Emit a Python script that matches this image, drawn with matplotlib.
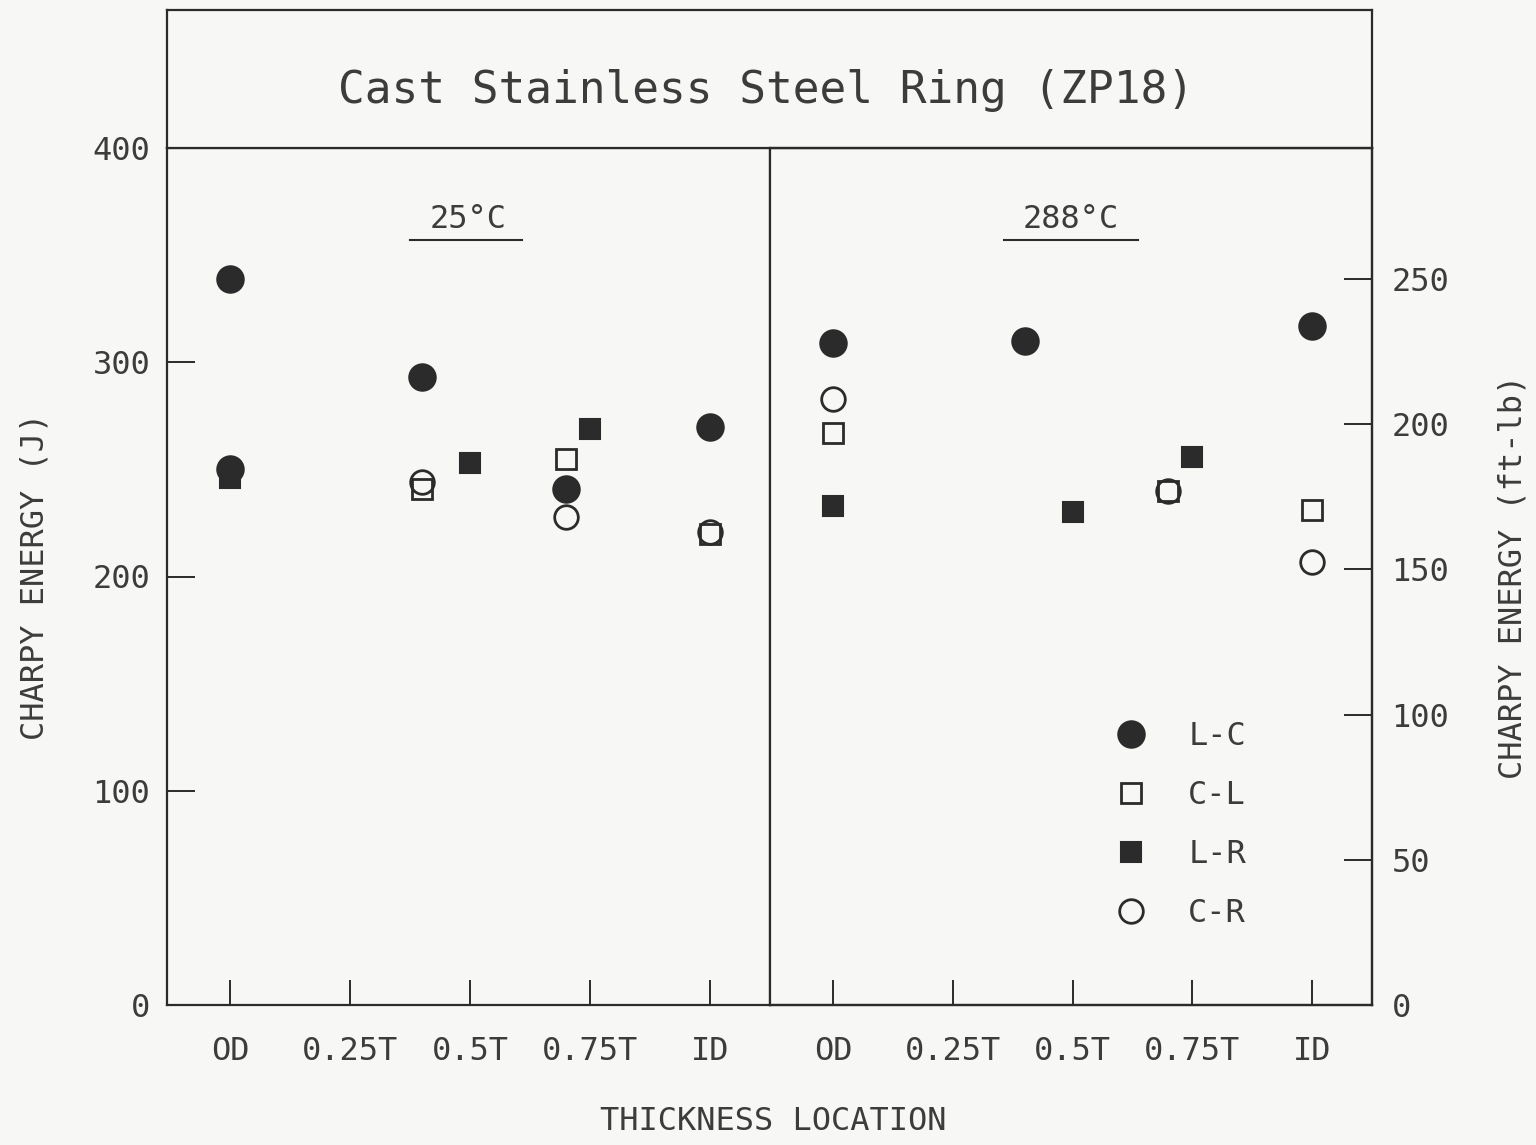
import matplotlib
matplotlib.use("Agg")
import matplotlib.pyplot as plt
from matplotlib.lines import Line2D

# ---------------- data ----------------
tick_pos = [0.0, 0.25, 0.5, 0.75, 1.0]
tick_labels = ["OD", "0.25T", "0.5T", "0.75T", "ID"]

# 25 C panel (position as fraction of thickness, energy in J)
lc25_x = [0.0, 0.0, 0.4, 0.7, 1.0]
lc25_y = [339, 250, 293, 241, 270]
cl25_x = [0.4, 0.7, 1.0]
cl25_y = [241, 255, 220]
lr25_x = [0.0, 0.5, 0.75]
lr25_y = [246, 253, 269]
cr25_x = [0.4, 0.7, 1.0]
cr25_y = [244, 228, 221]

# 288 C panel
lc288_x = [0.0, 0.4, 1.0]
lc288_y = [309, 310, 317]
cl288_x = [0.0, 0.7, 1.0]
cl288_y = [267, 240, 231]
lr288_x = [0.0, 0.5, 0.75]
lr288_y = [233, 230, 256]
cr288_x = [0.0, 0.7, 1.0]
cr288_y = [283, 240, 207]

left_yticks = [0, 100, 200, 300, 400]
right_yticks = [0, 50, 100, 150, 200, 250]
J_PER_FTLB = 1.35582

series_names = ["L-C", "C-L", "L-R", "C-R"]

# ---------------- style ----------------
FONT = "DejaVu Sans Mono"
INK = "#2b2b2b"
TXT = "#3c3c3c"
BG = "#f7f7f5"
plt.rcParams["font.family"] = FONT

W, H = 1536, 1145
fig = plt.figure(figsize=(W / 100, H / 100), dpi=100, facecolor=BG)

def fx(px):
    return px / W

def fy(py):
    return 1 - py / H

x_left, x_mid, x_right = 167, 770, 1372
y_top, y_bot, y_title_top = 148, 1005, 10

ax1 = fig.add_axes([fx(x_left), fy(y_bot), fx(x_mid - x_left), (y_bot - y_top) / H])
ax2 = fig.add_axes([fx(x_mid), fy(y_bot), fx(x_right - x_mid), (y_bot - y_top) / H])
axt = fig.add_axes([fx(x_left), fy(y_top), fx(x_right - x_left), (y_top - y_title_top) / H])

styles = {
    "L-C": dict(marker="o", ms=19, mfc=INK, mec=INK, mew=1.5),
    "C-L": dict(marker="s", ms=15, mfc="none", mec=INK, mew=2.0),
    "L-R": dict(marker="s", ms=15, mfc=INK, mec=INK, mew=1.5),
    "C-R": dict(marker="o", ms=17, mfc="none", mec=INK, mew=2.0),
}

xlim = (-0.132, 1.125)
for ax in (ax1, ax2, axt):
    ax.set_facecolor(BG)
    for s in ax.spines.values():
        s.set_color(INK)
        s.set_linewidth(1.6)

panel_data = [
    (ax1, [(lc25_x, lc25_y), (cl25_x, cl25_y), (lr25_x, lr25_y), (cr25_x, cr25_y)]),
    (ax2, [(lc288_x, lc288_y), (cl288_x, cl288_y), (lr288_x, lr288_y), (cr288_x, cr288_y)]),
]
for ax, data in panel_data:
    for name, (xs, ys) in zip(series_names, data):
        ax.plot(xs, ys, linestyle="none", **styles[name], zorder=3)
    ax.set_xlim(*xlim)
    ax.set_ylim(0, 400)
    ax.set_xticks(tick_pos)
    ax.set_xticklabels(tick_labels)
    ax.tick_params(axis="x", direction="in", length=18, width=1.4, color=INK,
                   labelsize=23, labelcolor=TXT, pad=22)

ax1.set_yticks(left_yticks)
ax1.tick_params(axis="y", direction="in", length=20, width=1.4, color=INK,
                labelsize=23, labelcolor=TXT, pad=12)
ax1.set_ylabel("CHARPY ENERGY (J)", fontsize=23, color=TXT, labelpad=30)

ax2.set_yticks([])
ax2.spines["left"].set_visible(False)
axr = ax2.twinx()
axr.set_ylim(0, 400 / J_PER_FTLB)
axr.set_yticks(right_yticks)
axr.tick_params(axis="y", direction="in", length=20, width=1.4, color=INK,
                labelsize=23, labelcolor=TXT, pad=14)
for s in axr.spines.values():
    s.set_color(INK)
    s.set_linewidth(1.6)
axr.set_ylabel("CHARPY ENERGY (ft-lb)", fontsize=23, color=TXT, labelpad=35)

fig.text(fx(773), fy(1122), "THICKNESS LOCATION", fontsize=23, color=TXT,
         ha="center", va="center")

# panel headings with underline
ax1.text(0.5, 0.917, "25°C", transform=ax1.transAxes, fontsize=23, color=TXT,
         ha="center", va="center")
ax1.plot([0.403, 0.589], [0.893, 0.893], transform=ax1.transAxes, color=INK, lw=1.5)
ax2.text(0.5, 0.917, "288°C", transform=ax2.transAxes, fontsize=23, color=TXT,
         ha="center", va="center")
ax2.plot([0.389, 0.611], [0.893, 0.893], transform=ax2.transAxes, color=INK, lw=1.5)

# title box
axt.set_xticks([])
axt.set_yticks([])
axt.text(0.497, 0.42, "Cast Stainless Steel Ring (ZP18)", transform=axt.transAxes,
         fontsize=32, color=TXT, ha="center", va="center")

# legend
handles = [Line2D([], [], linestyle="none", **styles[n]) for n in series_names]
leg = ax2.legend(handles, series_names, loc="upper left", bbox_to_anchor=(0.546, 0.35),
                 frameon=False, fontsize=23, handlelength=1.0, handletextpad=1.3,
                 labelspacing=0.88, borderpad=0, labelcolor=TXT)

fig.savefig("out.png", dpi=100, facecolor=BG)
